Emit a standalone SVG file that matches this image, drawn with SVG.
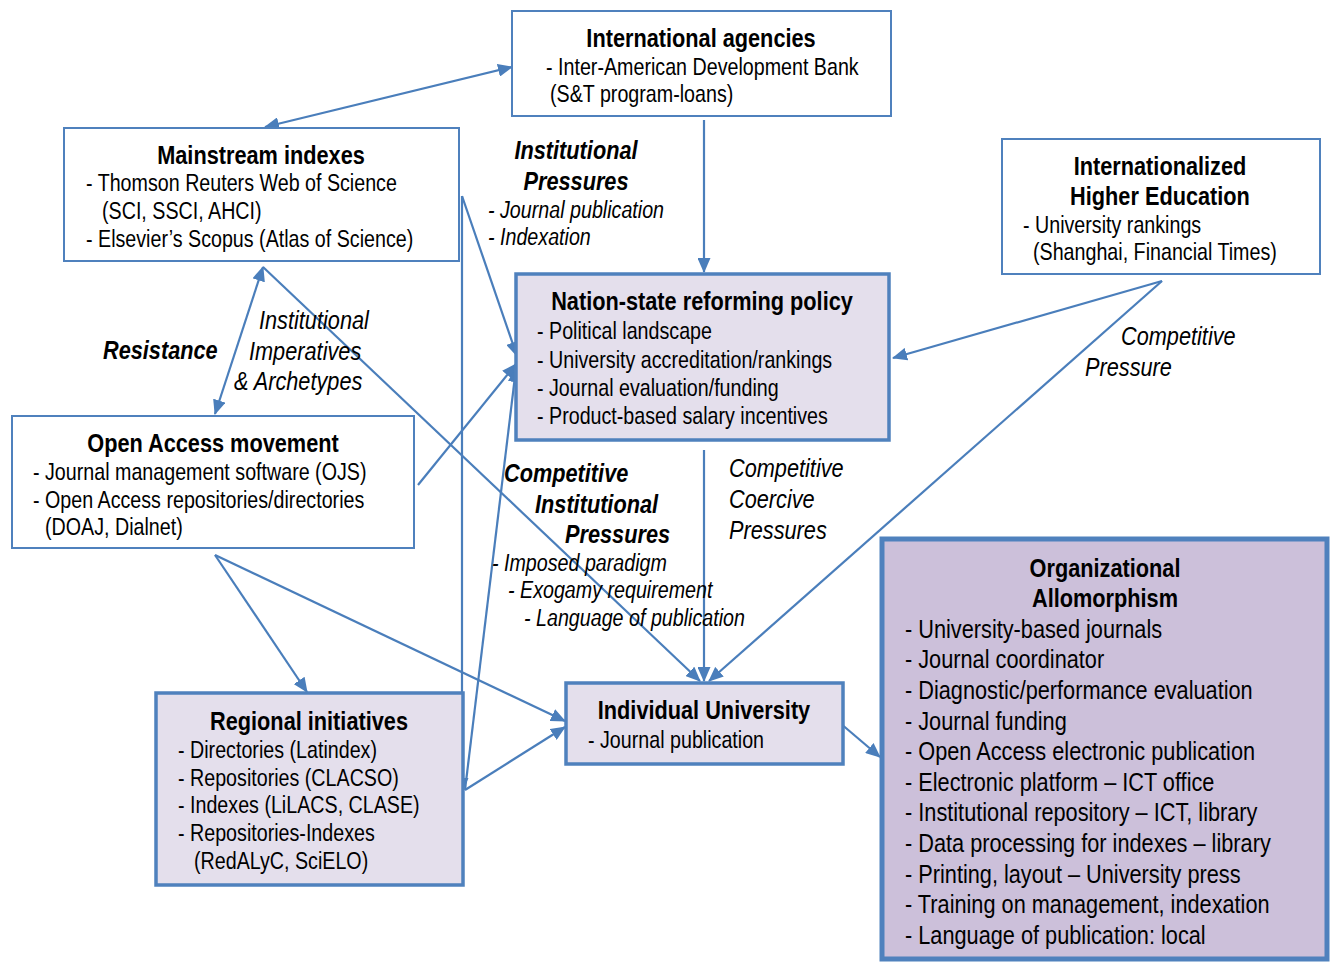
<svg xmlns="http://www.w3.org/2000/svg" width="1334" height="962" viewBox="0 0 1334 962">
<defs>
<marker id="ah" viewBox="0 0 15 13" refX="14" refY="6.5" markerWidth="15" markerHeight="13" markerUnits="userSpaceOnUse" orient="auto-start-reverse">
<path d="M0,0 L15,6.5 L0,13 Z" fill="#4A7EBB"/>
</marker>
<style>
text{font-family:"Liberation Sans",Arial,sans-serif;fill:#000}
.t{font-size:26.5px;font-weight:bold;text-anchor:middle}
.b{font-size:24px}
.ob{font-size:26.5px}
.li{font-size:24px;font-style:italic}
.lb{font-size:26.5px;font-style:italic;font-weight:bold}
.lm{font-size:26.5px;font-style:italic}
.thin{fill:#fff;stroke:#4F81BD;stroke-width:2}
.thick{fill:#E4DFEC;stroke:#4F81BD;stroke-width:3.5}
.org{fill:#CCC0DA;stroke:#4F81BD;stroke-width:5}
.c{fill:none;stroke:#4A7EBB;stroke-width:2.2}
</style>
</defs>
<rect width="1334" height="962" fill="#fff"/>

<g id="connectors">
<line class="c" x1="265" y1="127" x2="512" y2="67" marker-start="url(#ah)" marker-end="url(#ah)"/>
<line class="c" x1="704" y1="120" x2="704" y2="272" marker-end="url(#ah)"/>
<line class="c" x1="462" y1="196" x2="517" y2="356" marker-end="url(#ah)"/>
<line class="c" x1="418" y1="485" x2="516" y2="364" marker-end="url(#ah)"/>
<line class="c" x1="462" y1="196" x2="462" y2="792" marker-end="url(#ah)"/>
<line class="c" x1="465" y1="790" x2="516" y2="368" marker-end="url(#ah)"/>
<line class="c" x1="263" y1="267" x2="700" y2="681" marker-end="url(#ah)"/>
<line class="c" x1="263" y1="267" x2="215" y2="414" marker-start="url(#ah)" marker-end="url(#ah)"/>
<line class="c" x1="215" y1="555" x2="307" y2="692" marker-end="url(#ah)"/>
<line class="c" x1="215" y1="555" x2="565" y2="721" marker-end="url(#ah)"/>
<line class="c" x1="465" y1="790" x2="565" y2="727" marker-end="url(#ah)"/>
<line class="c" x1="704" y1="450" x2="704" y2="681" marker-end="url(#ah)"/>
<line class="c" x1="1162" y1="281" x2="893" y2="358" marker-end="url(#ah)"/>
<line class="c" x1="1162" y1="281" x2="709" y2="681" marker-end="url(#ah)"/>
<line class="c" x1="840" y1="723" x2="880" y2="757" marker-end="url(#ah)"/>
</g>

<g id="international-agencies">
<rect class="thin" x="512" y="11" width="379" height="105"/>
<text class="t" transform="translate(701 47) scale(0.82 1)">International agencies</text>
<text class="b" transform="translate(546 75) scale(0.82 1)">- Inter-American Development Bank</text>
<text class="b" transform="translate(550 102) scale(0.82 1)">(S&amp;T program-loans)</text>
</g>

<g id="mainstream-indexes">
<rect class="thin" x="64" y="128" width="395" height="133"/>
<text class="t" transform="translate(261 164) scale(0.82 1)">Mainstream indexes</text>
<text class="b" transform="translate(86 191) scale(0.82 1)">- Thomson Reuters Web of Science</text>
<text class="b" transform="translate(102 219) scale(0.82 1)">(SCI, SSCI, AHCI)</text>
<text class="b" transform="translate(86 247) scale(0.82 1)">- Elsevier’s Scopus (Atlas of Science)</text>
</g>

<g id="internationalized-higher-education">
<rect class="thin" x="1002" y="139" width="318" height="135"/>
<text class="t" transform="translate(1160 175) scale(0.82 1)">Internationalized</text>
<text class="t" transform="translate(1160 205) scale(0.82 1)">Higher Education</text>
<text class="b" transform="translate(1023 233) scale(0.82 1)">- University rankings</text>
<text class="b" transform="translate(1033 260) scale(0.82 1)">(Shanghai, Financial Times)</text>
</g>

<g id="nation-state">
<rect class="thick" x="516" y="274" width="373" height="166"/>
<text class="t" transform="translate(702 310) scale(0.82 1)">Nation-state reforming policy</text>
<text class="b" transform="translate(537 339) scale(0.82 1)">- Political landscape</text>
<text class="b" transform="translate(537 368) scale(0.82 1)">- University accreditation/rankings</text>
<text class="b" transform="translate(537 396) scale(0.82 1)">- Journal evaluation/funding</text>
<text class="b" transform="translate(537 424) scale(0.82 1)">- Product-based salary incentives</text>
</g>

<g id="open-access">
<rect class="thin" x="12" y="416" width="402" height="132"/>
<text class="t" transform="translate(213 452) scale(0.82 1)">Open Access movement</text>
<text class="b" transform="translate(33 480) scale(0.82 1)">- Journal management software (OJS)</text>
<text class="b" transform="translate(33 508) scale(0.82 1)">- Open Access repositories/directories</text>
<text class="b" transform="translate(45 535) scale(0.82 1)">(DOAJ, Dialnet)</text>
</g>

<g id="regional-initiatives">
<rect class="thick" x="156" y="693" width="307" height="192"/>
<text class="t" transform="translate(309 730) scale(0.82 1)">Regional initiatives</text>
<text class="b" transform="translate(178 758) scale(0.82 1)">- Directories (Latindex)</text>
<text class="b" transform="translate(178 786) scale(0.82 1)">- Repositories (CLACSO)</text>
<text class="b" transform="translate(178 813) scale(0.82 1)">- Indexes (LiLACS, CLASE)</text>
<text class="b" transform="translate(178 841) scale(0.82 1)">- Repositories-Indexes</text>
<text class="b" transform="translate(194 869) scale(0.82 1)">(RedALyC, SciELO)</text>
</g>

<g id="individual-university">
<rect class="thick" x="566" y="683" width="277" height="81"/>
<text class="t" transform="translate(704 719) scale(0.82 1)">Individual University</text>
<text class="b" transform="translate(588 748) scale(0.82 1)">- Journal publication</text>
</g>

<g id="organizational-allomorphism">
<rect class="org" x="882" y="539" width="445" height="420"/>
<text class="t" transform="translate(1105 577) scale(0.82 1)">Organizational</text>
<text class="t" transform="translate(1105 607) scale(0.82 1)">Allomorphism</text>
<text class="ob" transform="translate(905 638) scale(0.82 1)">- University-based journals</text>
<text class="ob" transform="translate(905 668) scale(0.82 1)">- Journal coordinator</text>
<text class="ob" transform="translate(905 699) scale(0.82 1)">- Diagnostic/performance evaluation</text>
<text class="ob" transform="translate(905 730) scale(0.82 1)">- Journal funding</text>
<text class="ob" transform="translate(905 760) scale(0.82 1)">- Open Access electronic publication</text>
<text class="ob" transform="translate(905 791) scale(0.82 1)">- Electronic platform – ICT office</text>
<text class="ob" transform="translate(905 821) scale(0.82 1)">- Institutional repository – ICT, library</text>
<text class="ob" transform="translate(905 852) scale(0.82 1)">- Data processing for indexes – library</text>
<text class="ob" transform="translate(905 883) scale(0.82 1)">- Printing, layout – University press</text>
<text class="ob" transform="translate(905 913) scale(0.82 1)">- Training on management, indexation</text>
<text class="ob" transform="translate(905 944) scale(0.82 1)">- Language of publication: local</text>
</g>

<g id="labels">
<text class="lb" text-anchor="middle" transform="translate(576 159) scale(0.82 1)">Institutional</text>
<text class="lb" text-anchor="middle" transform="translate(576 190) scale(0.82 1)">Pressures</text>
<text class="li" transform="translate(488 218) scale(0.82 1)">- Journal publication</text>
<text class="li" transform="translate(488 245) scale(0.82 1)">- Indexation</text>
<text class="lb" transform="translate(103 359) scale(0.82 1)">Resistance</text>
<text class="lm" transform="translate(259 329) scale(0.82 1)">Institutional</text>
<text class="lm" transform="translate(249 360) scale(0.82 1)">Imperatives</text>
<text class="lm" transform="translate(234 390) scale(0.82 1)">&amp; Archetypes</text>
<text class="lb" transform="translate(504 482) scale(0.82 1)">Competitive</text>
<text class="lb" transform="translate(535 513) scale(0.82 1)">Institutional</text>
<text class="lb" transform="translate(565 543) scale(0.82 1)">Pressures</text>
<text class="li" transform="translate(492 571) scale(0.82 1)">- Imposed paradigm</text>
<text class="li" transform="translate(508 598) scale(0.82 1)">- Exogamy requirement</text>
<text class="li" transform="translate(524 626) scale(0.82 1)">- Language of publication</text>
<text class="lm" transform="translate(729 477) scale(0.82 1)">Competitive</text>
<text class="lm" transform="translate(729 508) scale(0.82 1)">Coercive</text>
<text class="lm" transform="translate(729 539) scale(0.82 1)">Pressures</text>
<text class="lm" transform="translate(1121 345) scale(0.82 1)">Competitive</text>
<text class="lm" transform="translate(1085 376) scale(0.82 1)">Pressure</text>
</g>
</svg>
